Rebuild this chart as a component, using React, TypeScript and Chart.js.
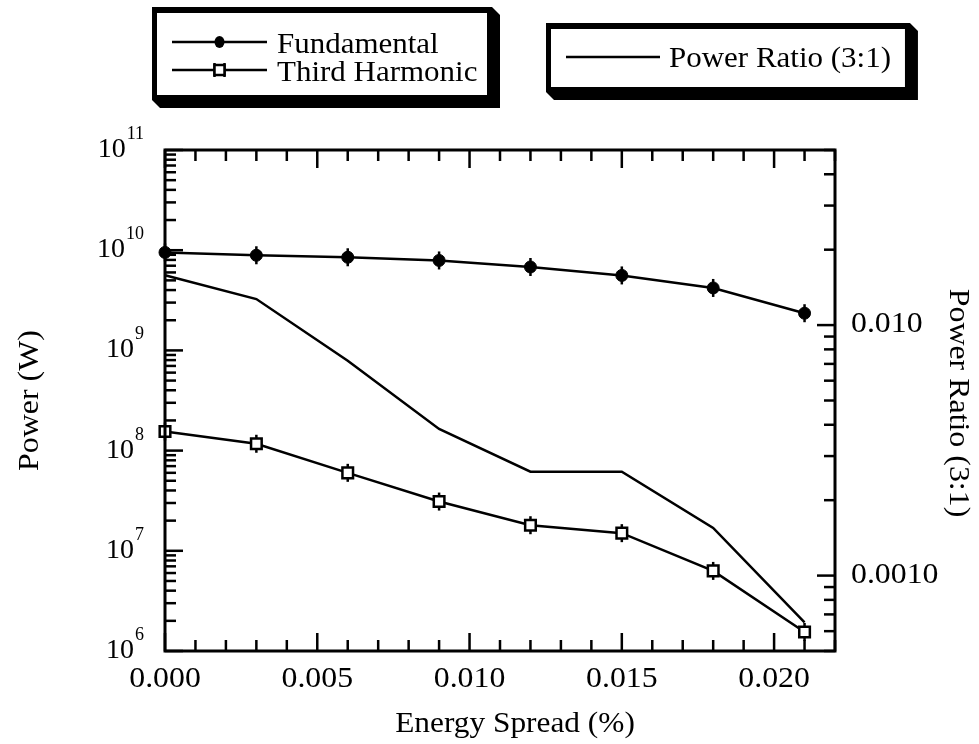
import React, { useEffect, useRef } from "react";
import { Chart, registerables } from "chart.js";

Chart.register(...registerables);

// ---- data ----
const energySpread = [0, 0.003, 0.006, 0.009, 0.012, 0.015, 0.018, 0.021];
const fundamental = [9.5e9, 8.9e9, 8.5e9, 7.9e9, 6.8e9, 5.6e9, 4.2e9, 2.35e9];
const thirdHarmonic = [1.55e8, 1.17e8, 6.0e7, 3.1e7, 1.8e7, 1.5e7, 6.3e6, 1.55e6];
const powerRatio = [0.0158, 0.0127, 0.0072, 0.00385, 0.0026, 0.0026, 0.00155, 0.00065];

const xTickValues = [0, 0.005, 0.01, 0.015, 0.02];
const xTickLabels = ["0.000", "0.005", "0.010", "0.015", "0.020"];
const leftTickValues = [1e6, 1e7, 1e8, 1e9, 1e10, 1e11];
const leftTickExponents = ["6", "7", "8", "9", "10", "11"];
const rightTickValues = [0.001, 0.01];
const rightTickLabels = ["0.0010", "0.010"];

const seriesNames = ["Fundamental", "Third Harmonic", "Power Ratio (3:1)"];
const xTitle = "Energy Spread (%)";
const yTitle = "Power (W)";
const y2Title = "Power Ratio (3:1)";

const FONT = '"Liberation Serif", "Times New Roman", Times, serif';
const SX = 1.1;

function drawText(
  ctx: CanvasRenderingContext2D,
  s: string,
  x: number,
  y: number,
  size: number,
  align: CanvasTextAlign,
  baseline: CanvasTextBaseline,
  rot = 0,
  sx = SX
) {
  ctx.save();
  ctx.translate(x, y);
  if (rot) ctx.rotate(rot);
  ctx.scale(sx, 1);
  ctx.font = `${size}px ${FONT}`;
  ctx.textAlign = align;
  ctx.textBaseline = baseline;
  ctx.fillStyle = "#000";
  ctx.fillText(s, 0, 0);
  ctx.restore();
}

function textWidth(ctx: CanvasRenderingContext2D, s: string, size: number, sx = SX) {
  ctx.save();
  ctx.font = `${size}px ${FONT}`;
  const w = ctx.measureText(s).width * sx;
  ctx.restore();
  return w;
}

function drawBox(ctx: CanvasRenderingContext2D, x: number, y: number, w: number, h: number) {
  const off = 8;
  const b = 5;
  ctx.save();
  ctx.fillStyle = "#000";
  ctx.beginPath();
  ctx.moveTo(x + w, y);
  ctx.lineTo(x + w + off, y + off);
  ctx.lineTo(x + w + off, y + h + off);
  ctx.lineTo(x + off, y + h + off);
  ctx.lineTo(x, y + h);
  ctx.closePath();
  ctx.fill();
  ctx.fillRect(x, y, w, h);
  ctx.fillStyle = "#fff";
  ctx.fillRect(x + b, y + b + 1, w - 2 * b, h - 2 * b - 1);
  ctx.restore();
}

const decor = {
  id: "decor",
  beforeDatasetsDraw(chart: any) {
    const ctx: CanvasRenderingContext2D = chart.ctx;
    const xs = chart.scales.x;
    const ys = chart.scales.y;
    ctx.save();
    ctx.strokeStyle = "#000";
    ctx.lineWidth = 2.5;
    [fundamental, thirdHarmonic].forEach((arr) =>
      arr.forEach((v, i) => {
        const px = xs.getPixelForValue(energySpread[i]);
        const py = ys.getPixelForValue(v);
        ctx.beginPath();
        ctx.moveTo(px, py - 9);
        ctx.lineTo(px, py + 9);
        ctx.stroke();
      })
    );
    ctx.restore();
  },
  afterDraw(chart: any) {
    const ctx: CanvasRenderingContext2D = chart.ctx;
    const a = chart.chartArea;
    const xs = chart.scales.x;
    const ys = chart.scales.y;
    const y2 = chart.scales.y2;
    const MAJ = 18;
    const MIN = 11;

    ctx.save();
    ctx.strokeStyle = "#000";
    ctx.lineWidth = 3;
    ctx.lineCap = "butt";
    ctx.strokeRect(a.left, a.top, a.right - a.left, a.bottom - a.top);

    ctx.lineWidth = 2.5;
    for (let k = 0; k <= 22; k++) {
      const px = xs.getPixelForValue(k / 1000);
      const len = k % 5 === 0 ? MAJ : MIN;
      ctx.beginPath();
      ctx.moveTo(px, a.bottom);
      ctx.lineTo(px, a.bottom - len);
      ctx.moveTo(px, a.top);
      ctx.lineTo(px, a.top + len);
      ctx.stroke();
    }
    for (let e = 6; e <= 11; e++) {
      for (let m = 1; m <= 9; m++) {
        if (e === 11 && m > 1) break;
        const py = ys.getPixelForValue(m * Math.pow(10, e));
        const len = m === 1 ? MAJ : MIN;
        ctx.beginPath();
        ctx.moveTo(a.left, py);
        ctx.lineTo(a.left + len, py);
        ctx.stroke();
      }
    }
    for (let e = -4; e <= -2; e++) {
      for (let m = 1; m <= 9; m++) {
        const v = m * Math.pow(10, e);
        if (v < 0.0005 * 0.999 || v > 0.05 * 1.001) continue;
        const py = y2.getPixelForValue(v);
        const len = m === 1 ? MAJ : MIN;
        ctx.beginPath();
        ctx.moveTo(a.right, py);
        ctx.lineTo(a.right - len, py);
        ctx.stroke();
      }
    }
    ctx.restore();

    // tick labels
    xTickValues.forEach((v, i) => {
      drawText(ctx, xTickLabels[i], xs.getPixelForValue(v), a.bottom + 36, 30, "center", "alphabetic", 0, 1.06);
    });
    leftTickValues.forEach((v, i) => {
      const py = ys.getPixelForValue(v);
      const ex = a.left - 21;
      const ew = textWidth(ctx, leftTickExponents[i], 18, 1.0);
      drawText(ctx, leftTickExponents[i], ex, py - 11, 18, "right", "alphabetic", 0, 1.0);
      drawText(ctx, "10", ex - ew - 1, py + 7, 28, "right", "alphabetic", 0, 1.0);
    });
    rightTickValues.forEach((v, i) => {
      const py = y2.getPixelForValue(v);
      drawText(ctx, rightTickLabels[i], a.right + 16, py + 7, 30, "left", "alphabetic", 0, 1.06);
    });

    // axis titles
    drawText(ctx, xTitle, 515, a.bottom + 81, 28.5, "center", "alphabetic");
    drawText(ctx, yTitle, 30, (a.top + a.bottom) / 2, 29, "center", "middle", -Math.PI / 2);
    drawText(ctx, y2Title, 958, 403, 29, "center", "middle", Math.PI / 2);

    // legend box 1
    drawBox(ctx, 152, 7, 340, 93);
    const drawSample = (x0: number, x1: number, y: number, kind: string) => {
      ctx.save();
      ctx.strokeStyle = "#000";
      ctx.lineWidth = 2.5;
      ctx.beginPath();
      ctx.moveTo(x0, y);
      ctx.lineTo(x1, y);
      ctx.stroke();
      const cx = (x0 + x1) / 2;
      if (kind === "circle") {
        ctx.fillStyle = "#000";
        ctx.beginPath();
        ctx.ellipse(cx, y, 5, 6, 0, 0, Math.PI * 2);
        ctx.fill();
      } else if (kind === "rect") {
        ctx.beginPath();
        ctx.moveTo(cx - 5, y - 7);
        ctx.lineTo(cx - 5, y + 7);
        ctx.moveTo(cx + 5, y - 7);
        ctx.lineTo(cx + 5, y + 7);
        ctx.stroke();
        ctx.fillStyle = "#fff";
        ctx.fillRect(cx - 5, y - 5, 10, 10);
        ctx.strokeRect(cx - 5, y - 5, 10, 10);
      }
      ctx.restore();
    };
    drawSample(172, 267, 42, "circle");
    drawSample(172, 267, 70, "rect");
    drawText(ctx, seriesNames[0], 277, 53, 29.5, "left", "alphabetic", 0, 1.05);
    drawText(ctx, seriesNames[1], 277, 81, 29.5, "left", "alphabetic", 0, 1.05);

    // legend box 2
    const tw = textWidth(ctx, seriesNames[2], 29.5, 1.05);
    drawBox(ctx, 546, 23, 669 + tw + 19 - 546, 69);
    drawSample(566, 660, 57, "line");
    drawText(ctx, seriesNames[2], 669, 67, 29.5, "left", "alphabetic", 0, 1.05);
  },
};

export default function App() {
  const ref = useRef<HTMLCanvasElement>(null);
  useEffect(() => {
    if (!ref.current) return;
    const chart = new Chart(ref.current, {
      type: "line",
      data: {
        datasets: [
          {
            label: seriesNames[0],
            data: energySpread.map((x, i) => ({ x, y: fundamental[i] })),
            yAxisID: "y",
            borderColor: "#000",
            borderWidth: 2.5,
            pointStyle: "circle",
            pointRadius: 6,
            pointBackgroundColor: "#000",
            pointBorderColor: "#000",
            pointBorderWidth: 1,
            clip: false,
          },
          {
            label: seriesNames[1],
            data: energySpread.map((x, i) => ({ x, y: thirdHarmonic[i] })),
            yAxisID: "y",
            borderColor: "#000",
            borderWidth: 2.5,
            pointStyle: "rect",
            pointRadius: 7.5,
            pointBackgroundColor: "#fff",
            pointBorderColor: "#000",
            pointBorderWidth: 2.5,
            clip: false,
          },
          {
            label: seriesNames[2],
            data: energySpread.map((x, i) => ({ x, y: powerRatio[i] })),
            yAxisID: "y2",
            borderColor: "#000",
            borderWidth: 2.5,
            pointRadius: 0,
            clip: false,
          },
        ],
      },
      options: {
        animation: false,
        responsive: true,
        maintainAspectRatio: false,
        layout: { padding: { left: 165, right: 144, top: 150, bottom: 93 } },
        plugins: { legend: { display: false }, tooltip: { enabled: false }, title: { display: false } },
        elements: { line: { tension: 0 } },
        scales: {
          x: { type: "linear", min: 0, max: 0.022, display: false },
          y: { type: "logarithmic", min: 1e6, max: 1e11, position: "left", display: false },
          y2: { type: "logarithmic", min: 0.0005, max: 0.05, position: "right", display: false },
        },
      },
      plugins: [decor],
    });
    return () => chart.destroy();
  }, []);
  return (
    <div style={{ position: "fixed", left: 0, top: 0, width: 979, height: 744, background: "#fff" }}>
      <canvas ref={ref} />
    </div>
  );
}
